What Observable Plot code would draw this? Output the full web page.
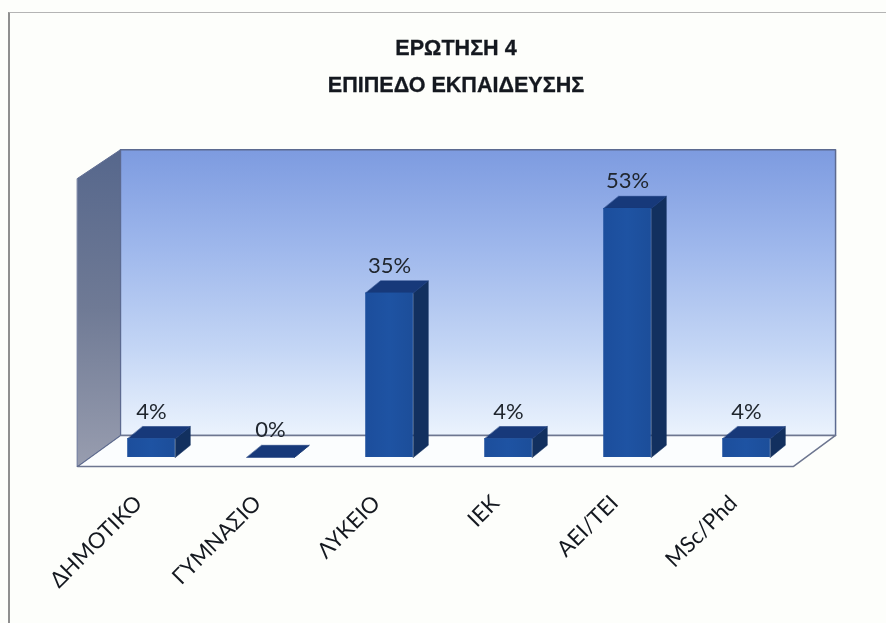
<!DOCTYPE html>
<html>
<head>
<meta charset="utf-8">
<script src="https://cdn.jsdelivr.net/npm/d3@7"></script>
<script src="https://cdn.jsdelivr.net/npm/@observablehq/plot@0.6"></script>
<style>
  html, body { margin: 0; padding: 0; background: #fdfefb; }
  body { width: 886px; height: 623px; overflow: hidden; position: relative; }
  #rule { position: absolute; left: 8px; top: 12px; right: 0; bottom: 0; border-left: 2px solid #8f8f8f; border-top: 1.5px solid #b4b4b4; }
  #head { position: relative; height: 130px; box-sizing: border-box; padding-top: 29px; text-align: center; width: 912px;
          font: bold 22px/37px "Liberation Sans", sans-serif; color: #14181f; filter: blur(0.5px); -webkit-text-stroke: 0.3px #14181f; }
  #head div { transform: scaleX(0.98); }
  #chart { position: relative; filter: blur(0.5px); }
  #chart svg { display: block; background: transparent; }
</style>
</head>
<body>
<div id="rule"></div>
<div id="head"><div>ΕΡΩΤΗΣΗ 4</div><div>ΕΠΙΠΕΔΟ ΕΚΠΑΙΔΕΥΣΗΣ</div></div>
<div id="chart"></div>
<script>
const categories = ["ΔΗΜΟΤΙΚΟ", "ΓΥΜΝΑΣΙΟ", "ΛΥΚΕΙΟ", "ΙΕΚ", "ΑΕΙ/ΤΕΙ", "MSc/Phd"];
const values = [4, 0, 35, 4, 53, 4];
const valueLabels = ["4%", "0%", "35%", "4%", "53%", "4%"];

// 3D box proportions, in data units
const halfBar = 0.2, depthX = 0.126, depthY = 2.6;
const left = [-0.622, -0.261], right = [5.395, 5.748];
const floorY = [-1.9, 4.7], wallTop = 65.5, sideTop = 59.4;

const poly = (id, pts) => pts.map(([x, y]) => ({id, x, y}));
const bars = values.map((v, i) => ({i, v, x1: i - halfBar, x2: i + halfBar}));
const topFaces = bars.flatMap(b => poly(b.i, [[b.x1, b.v], [b.x2, b.v], [b.x2 + depthX, b.v + depthY], [b.x1 + depthX, b.v + depthY]]));
const sideFaces = bars.flatMap(b => poly(b.i, [[b.x2, 0], [b.x2 + depthX, depthY], [b.x2 + depthX, b.v + depthY], [b.x2, b.v]]));

const backWall = poly("back", [[left[1], floorY[1]], [right[1], floorY[1]], [right[1], wallTop], [left[1], wallTop]]);
const sideWall = poly("side", [[left[0], floorY[0]], [left[1], floorY[1]], [left[1], wallTop], [left[0], sideTop]]);
const floor = poly("floor", [[left[0], floorY[0]], [right[0], floorY[0]], [right[1], floorY[1]], [left[1], floorY[1]]]);

const gradient = (id, stops, vertical = true) => {
  const ns = "http://www.w3.org/2000/svg";
  const g = document.createElementNS(ns, "linearGradient");
  g.setAttribute("id", id);
  g.setAttribute("x1", 0); g.setAttribute("y1", 0);
  g.setAttribute("x2", vertical ? 0 : 1); g.setAttribute("y2", vertical ? 1 : 0);
  stops.forEach(([o, c]) => {
    const s = document.createElementNS(ns, "stop");
    s.setAttribute("offset", o); s.setAttribute("stop-color", c);
    g.appendChild(s);
  });
  return g;
};
const defs = () => {
  const ns = "http://www.w3.org/2000/svg";
  const d = document.createElementNS(ns, "defs");
  d.appendChild(gradient("gBack", [[0, "#7d9be0"], [0.35, "#9fb8ec"], [0.7, "#c4d6f5"], [1, "#ebf3fd"]]));
  d.appendChild(gradient("gSide", [[0, "#56678c"], [0.5, "#6f7a95"], [1, "#989daf"]]));
  d.appendChild(gradient("gBar", [[0, "#1c4e9c"], [0.5, "#1e53a3"], [1, "#1c4e9a"]], false));
  return d;
};

const plot = Plot.plot({
  width: 886,
  height: 493,
  marginTop: 0, marginLeft: 0, marginRight: 0, marginBottom: 156,
  x: {domain: [-1.269, 6.176], label: null},
  y: {domain: [-2.13, 69.6], label: null, axis: null},
  style: {background: "transparent", overflow: "visible"},
  marks: [
    defs,
    Plot.line(backWall, {x: "x", y: "y", z: "id", curve: "linear-closed", fill: "url(#gBack)", stroke: "#5c6a90", strokeWidth: 1.5}),
    Plot.line(floor, {x: "x", y: "y", z: "id", curve: "linear-closed", fill: "#fbfdfe", stroke: "#6d7690", strokeWidth: 1.5}),
    Plot.line(sideWall, {x: "x", y: "y", z: "id", curve: "linear-closed", fill: "url(#gSide)", stroke: "#5c6a90", strokeWidth: 1}),
    Plot.line(sideFaces, {x: "x", y: "y", z: "id", curve: "linear-closed", fill: "#12305f", stroke: "#12305f", strokeWidth: 0.5}),
    Plot.line(topFaces, {x: "x", y: "y", z: "id", curve: "linear-closed", fill: "#17397a", stroke: "#17397a", strokeWidth: 0.5}),
    Plot.rect(bars, {x1: "x1", x2: "x2", y1: 0, y2: "v", fill: "url(#gBar)"}),
    Plot.text(bars, {
      x: "i",
      y: d => d.v + depthY,
      text: d => valueLabels[d.i],
      dy: -15,
      fontSize: 22,
      fontFamily: "Lato",
      fill: "#20262e"
    }),
    Plot.axisX({
      ticks: categories.map((_, i) => i),
      tickFormat: i => categories[i],
      tickSize: 0,
      tickPadding: 32,
      tickRotate: -45,
      textAnchor: "end",
      dx: -13,
      fontSize: 22,
      fontFamily: "Lato",
      fill: "#14181f",
      label: null
    })
  ]
});
document.getElementById("chart").appendChild(plot);
</script>
</body>
</html>
